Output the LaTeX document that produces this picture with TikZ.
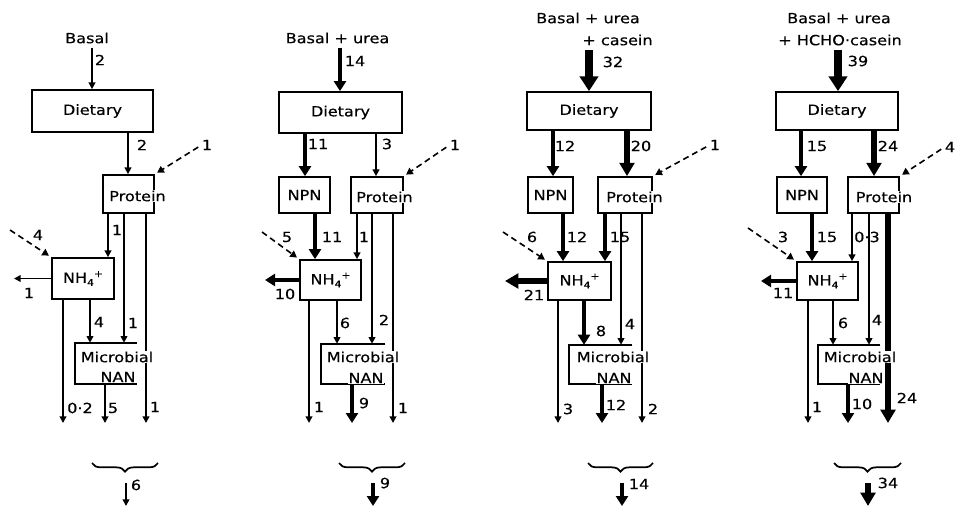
\documentclass[tikz,border=0pt]{standalone}
\usepackage{fontspec}
\setmainfont[FakeStretch=1.15,FakeBold=0.35]{DejaVu Sans}
\usetikzlibrary{arrows.meta,decorations.pathreplacing}
\newcommand{\nhq}{NH\raisebox{-0.4ex}{\fontsize{7}{8}\selectfont 4}\raisebox{0.75ex}{\fontsize{7}{8}\selectfont +}}
\begin{document}
\begin{tikzpicture}[x=0.75pt,y=-0.75pt,
  bx/.style 2 args={draw, line width=1.3pt, fill=white, inner sep=0pt,
    minimum width={#1*0.75pt}, minimum height={#2*0.75pt}, font=\fontsize{10.5}{12}\selectfont},
  ob/.style 2 args={draw=none, inner sep=0pt, minimum width={#1*0.75pt}, minimum height={#2*0.75pt}},
  txt/.style={fill=white, inner sep=0.6pt, font=\fontsize{10.5}{12}\selectfont},
  lbl/.style={inner sep=0pt, font=\fontsize{10.5}{12}\selectfont},
  fthin/.style={line width=1.3pt, -{Triangle[length=5pt,width=5pt]}},
  fmed/.style={line width=3pt, -{Triangle[length=7.5pt,width=9pt]}},
  fthk/.style={line width=5pt, -{Triangle[length=10pt,width=11pt]}},
  fxthk/.style={line width=6.5pt, -{Triangle[length=11pt,width=13.5pt]}},
  fdash/.style={line width=1.2pt, dash pattern=on 4.5pt off 3pt, -{Triangle[length=5pt,width=5.5pt]}, shorten >=2pt},
  brc/.style={decorate, decoration={brace, mirror, amplitude=6.5pt}, line width=1.3pt},
  openbox/.style={line width=1.3pt}
]
\useasboundingbox (0,0) rectangle (955,506);

% ================= Panel 1 =================
\node[lbl] (in1) at (87,38) {Basal};
\node[bx={121}{42}] (d1) at (92.5,111) {Dietary};
\node[bx={51}{38}] (p1) at (128.5,194) {};
\node[bx={62}{41}] (a1) at (83,278.5) {\nhq};
\node[ob={62}{41}] (m1) at (106,363.5) {};
\draw[openbox] (m1.north east) -- (m1.north west) -- (m1.south west) -- (m1.south east);

\draw[fthin, shorten <=3pt] (in1.south -| 92,0) -- (d1.north -| 92,0);
\node[lbl] at (100,60) {2};
\draw[fthin] (d1.south -| 128,0) -- (p1.north -| 128,0);
\node[lbl] at (142,145) {2};
\node[lbl] (x1) at (207,145) {1};
\draw[fdash, shorten <=3pt] (x1.west) -- (p1.north east);
\coordinate (s1) at (10,230);
\draw[fdash] (s1) -- (a1.north west);
\node[lbl] at (38,235) {4};
\draw[fthin] (p1.south -| 108,0) -- (a1.north -| 108,0);
\node[lbl] at (117,230) {1};
\draw[fthin] (p1.south -| 124,0) -- (m1.north -| 124,0);
\node[lbl] at (133,323) {1};
\coordinate (o1c) at (146,423);
\draw[fthin, line width=1.6pt] (p1.south -| 146,0) -- (o1c);
\node[lbl] at (155,407) {1};
\coordinate (l1) at (14,278.5);
\draw[fthin] (a1.west) -- (l1);
\node[lbl] at (29,293) {1};
\coordinate (o1a) at (63,423);
\draw[fthin] (a1.south -| 63,0) -- (o1a);
\node[lbl] at (80,408) {0·2};
\draw[fthin] (a1.south -| 90,0) -- (m1.north -| 90,0);
\node[lbl] at (99,322) {4};
\coordinate (o1b) at (105,423);
\draw[fthin] (m1.south -| 105,0) -- (o1b);
\node[lbl] at (113,408) {5};
\node[txt] at (137.5,196) {Protein};
\node[txt] at (117,357) {Microbial};
\node[txt] at (118,377) {NAN};
\coordinate (bl1) at (92,463); \coordinate (br1) at (158,463);
\draw[brc] (bl1) -- (br1);
\coordinate (t1a) at (126,483); \coordinate (t1b) at (126,506);
\draw[fthin] (t1a) -- (t1b);
\node[lbl] at (136,485) {6};

% ================= Panel 2 =================
\node[lbl] (in2) at (337.5,38) {Basal + urea};
\node[bx={123}{41}] (d2) at (340.5,112.5) {Dietary};
\node[bx={51}{36}] (n2) at (304.5,195) {NPN};
\node[bx={52}{36}] (p2) at (377,195) {};
\node[bx={61}{40}] (a2) at (330.5,280) {\nhq};
\node[ob={64}{40}] (m2) at (353,364) {};
\draw[openbox] (m2.north east) -- (m2.north west) -- (m2.south west) -- (m2.south east);

\draw[fmed, shorten <=3pt] (in2.south -| 340,0) -- (d2.north -| 340,0);
\node[lbl] at (355,61) {14};
\draw[fmed] (d2.south -| 305,0) -- (n2.north -| 305,0);
\node[lbl] at (318,144) {11};
\draw[fthin] (d2.south -| 376,0) -- (p2.north -| 376,0);
\node[lbl] at (387,144) {3};
\node[lbl] (x2) at (455,145) {1};
\draw[fdash, shorten <=3pt] (x2.west) -- (p2.north east);
\draw[fmed] (n2.south -| 315,0) -- (a2.north -| 315,0);
\node[lbl] at (332,237) {11};
\draw[fthin] (p2.south -| 357,0) -- (a2.north -| 357,0);
\node[lbl] at (364,237) {1};
\draw[fthin] (p2.south -| 372,0) -- (m2.north -| 372,0);
\node[lbl] at (384,320) {2};
\coordinate (o2c) at (393,423);
\draw[fthin, line width=1.6pt] (p2.south -| 393,0) -- (o2c);
\node[lbl] at (403,408) {1};
\coordinate (s2) at (262,232);
\draw[fdash] (s2) -- (a2.north west);
\node[lbl] at (287,237) {5};
\coordinate (l2) at (265,280);
\draw[fmed] (a2.west) -- (l2);
\node[lbl] at (285,294) {10};
\coordinate (o2a) at (309,423);
\draw[fthin] (a2.south -| 309,0) -- (o2a);
\node[lbl] at (319,407) {1};
\draw[fthin] (a2.south -| 337,0) -- (m2.north -| 337,0);
\node[lbl] at (345,323) {6};
\coordinate (o2b) at (352,423);
\draw[fmed] (m2.south -| 352,0) -- (o2b);
\node[lbl] at (364,403) {9};
\node[txt] at (384.5,197) {Protein};
\node[txt] at (363,357) {Microbial};
\node[txt] at (366,378) {NAN};
\coordinate (bl2) at (339,463); \coordinate (br2) at (405,463);
\draw[brc] (bl2) -- (br2);
\coordinate (t2a) at (373,483); \coordinate (t2b) at (373,506);
\draw[fmed] (t2a) -- (t2b);
\node[lbl] at (385,483) {9};

% ================= Panel 3 =================
\node[lbl] (in3a) at (588,18) {Basal + urea};
\node[lbl] (in3) at (617.5,40) {+ casein};
\node[bx={124}{38}] (d3) at (589,111) {Dietary};
\node[bx={45}{36}] (n3) at (550.5,195) {NPN};
\node[bx={54}{36}] (p3) at (625,195) {};
\node[bx={63}{38}] (a3) at (579.5,281) {\nhq};
\node[ob={63}{39}] (m3) at (600.5,364.5) {};
\draw[openbox] (m3.north east) -- (m3.north west) -- (m3.south west) -- (m3.south east);

\draw[fxthk, shorten <=3pt] (in3.south -| 589,0) -- (d3.north -| 589,0);
\node[lbl] at (613,62) {32};
\draw[fmed] (d3.south -| 553,0) -- (n3.north -| 553,0);
\node[lbl] at (565,146) {12};
\draw[fthk] (d3.south -| 627,0) -- (p3.north -| 627,0);
\node[lbl] at (641,146) {20};
\node[lbl] (x3) at (715,145) {1};
\draw[fdash, shorten <=3pt] (x3.west) -- (p3.north east);
\draw[fmed] (n3.south -| 563,0) -- (a3.north -| 563,0);
\node[lbl] at (577,237) {12};
\draw[fmed] (p3.south -| 605,0) -- (a3.north -| 605,0);
\node[lbl] at (620,237) {15};
\draw[fthin] (p3.south -| 621,0) -- (m3.north -| 621,0);
\node[lbl] at (630,324) {4};
\coordinate (o3c) at (642,423);
\draw[fthin] (p3.south -| 642,0) -- (o3c);
\node[lbl] at (653,409) {2};
\coordinate (s3) at (503,232);
\draw[fdash] (s3) -- (a3.north west);
\node[lbl] at (532,237) {6};
\coordinate (l3) at (505,281);
\draw[fthk] (a3.west) -- (l3);
\node[lbl] at (534,295) {21};
\coordinate (o3a) at (558,423);
\draw[fthin] (a3.south -| 558,0) -- (o3a);
\node[lbl] at (568,409) {3};
\draw[fmed] (a3.south -| 584,0) -- (m3.north -| 584,0);
\node[lbl] at (601,331) {8};
\coordinate (o3b) at (602,423);
\draw[fmed] (m3.south -| 602,0) -- (o3b);
\node[lbl] at (616,405) {12};
\node[txt] at (634.5,197) {Protein};
\node[txt] at (613,357) {Microbial};
\node[txt] at (614,378) {NAN};
\coordinate (bl3) at (588,463); \coordinate (br3) at (653,463);
\draw[brc] (bl3) -- (br3);
\coordinate (t3a) at (622,483); \coordinate (t3b) at (622,506);
\draw[fmed] (t3a) -- (t3b);
\node[lbl] at (639,484) {14};

% ================= Panel 4 =================
\node[lbl] (in4a) at (839,18) {Basal + urea};
\node[lbl] (in4) at (840,40) {+ HCHO·casein};
\node[bx={122}{38}] (d4) at (837,111) {Dietary};
\node[bx={50}{36}] (n4) at (802,195) {NPN};
\node[bx={51}{36}] (p4) at (873.5,195) {};
\node[bx={61}{38}] (a4) at (827.5,281) {\nhq};
\node[ob={62}{39}] (m4) at (849,364.5) {};
\draw[openbox] (m4.north east) -- (m4.north west) -- (m4.south west) -- (m4.south east);

\draw[fxthk, shorten <=3pt] (in4.south -| 838,0) -- (d4.north -| 838,0);
\node[lbl] at (858,61) {39};
\draw[fmed] (d4.south -| 801,0) -- (n4.north -| 801,0);
\node[lbl] at (817,146) {15};
\draw[fthk] (d4.south -| 874,0) -- (p4.north -| 874,0);
\node[lbl] at (888,146) {24};
\node[lbl] (x4) at (950,147) {4};
\draw[fdash, shorten <=3pt] (x4.west) -- (p4.north east);
\draw[fmed] (n4.south -| 812,0) -- (a4.north -| 812,0);
\node[lbl] at (827,237) {15};
\draw[fthin] (p4.south -| 852,0) -- (a4.north -| 852,0);
\node[lbl] at (867,237) {0·3};
\draw[fthin] (p4.south -| 869,0) -- (m4.north -| 869,0);
\node[lbl] at (877,320) {4};
\coordinate (o4c) at (888,423);
\draw[fthk] (p4.south -| 888,0) -- (o4c);
\node[lbl] at (907,398) {24};
\coordinate (s4) at (748,228);
\draw[fdash] (s4) -- (a4.north west);
\node[lbl] at (783,237) {3};
\coordinate (l4) at (761,281);
\draw[fmed] (a4.west) -- (l4);
\node[lbl] at (783,293) {11};
\coordinate (o4a) at (808,423);
\draw[fthin] (a4.south -| 808,0) -- (o4a);
\node[lbl] at (817,407) {1};
\draw[fthin] (a4.south -| 833,0) -- (m4.north -| 833,0);
\node[lbl] at (843,323) {6};
\coordinate (o4b) at (848,423);
\draw[fmed] (m4.south -| 848,0) -- (o4b);
\node[lbl] at (862,404) {10};
\node[txt] at (884,197) {Protein};
\node[txt] at (860,357) {Microbial};
\node[txt] at (866,378) {NAN};
\coordinate (bl4) at (834,463); \coordinate (br4) at (901,463);
\draw[brc] (bl4) -- (br4);
\coordinate (t4a) at (868,483); \coordinate (t4b) at (868,506);
\draw[fthk] (t4a) -- (t4b);
\node[lbl] at (888,483) {34};
\end{tikzpicture}
\end{document}
